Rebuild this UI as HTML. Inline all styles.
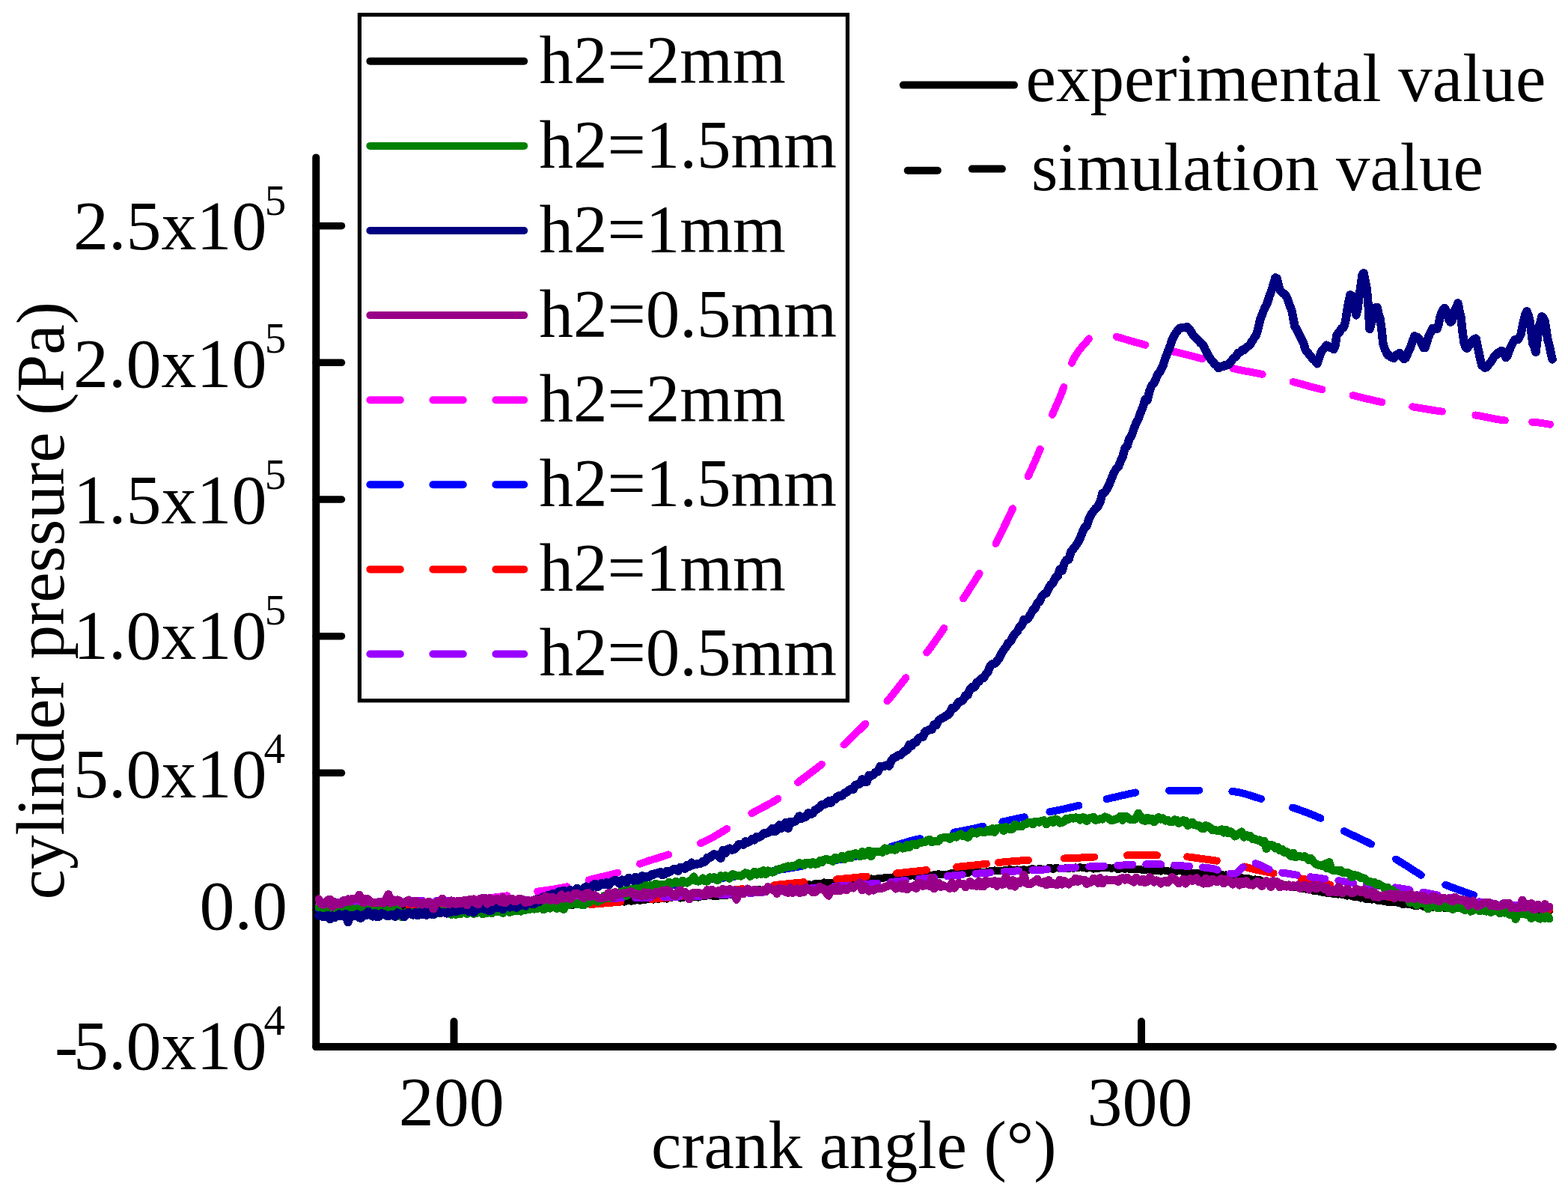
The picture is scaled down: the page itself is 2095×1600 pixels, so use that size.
<!DOCTYPE html>
<html><head><meta charset="utf-8"><title>cylinder pressure vs crank angle</title>
<style>
html,body{margin:0;padding:0;background:#fff;}
svg{display:block;}
text{font-family:'Liberation Serif','Times New Roman',serif;fill:#000;}
</style></head>
<body>
<svg width="2095" height="1600" viewBox="0 0 2095 1600">
<rect width="2095" height="1600" fill="#fff"/>
<line x1="422.25" y1="210.4" x2="422.25" y2="1398.1" stroke="#000" stroke-width="10" stroke-linecap="round"/>
<line x1="422.25" y1="1398.1" x2="2075" y2="1398.1" stroke="#000" stroke-width="10" stroke-linecap="round"/>
<line x1="422.25" y1="301.70" x2="456.5" y2="301.70" stroke="#000" stroke-width="9.5" stroke-linecap="round"/>
<line x1="422.25" y1="484.35" x2="456.5" y2="484.35" stroke="#000" stroke-width="9.5" stroke-linecap="round"/>
<line x1="422.25" y1="667.00" x2="456.5" y2="667.00" stroke="#000" stroke-width="9.5" stroke-linecap="round"/>
<line x1="422.25" y1="849.65" x2="456.5" y2="849.65" stroke="#000" stroke-width="9.5" stroke-linecap="round"/>
<line x1="422.25" y1="1032.30" x2="456.5" y2="1032.30" stroke="#000" stroke-width="9.5" stroke-linecap="round"/>
<line x1="422.25" y1="1214.95" x2="456.5" y2="1214.95" stroke="#000" stroke-width="9.5" stroke-linecap="round"/>
<line x1="606.50" y1="1398" x2="606.50" y2="1364.3" stroke="#000" stroke-width="10" stroke-linecap="round"/>
<line x1="1525.00" y1="1398" x2="1525.00" y2="1364.3" stroke="#000" stroke-width="10" stroke-linecap="round"/>
<g id="curves" shape-rendering="crispEdges">
<path d="M426.0,1210.0 L430.0,1210.0 L434.0,1210.0 L435.2,1210.0 M476.2,1210.0 L478.0,1210.0 L482.0,1210.0 L486.0,1210.0 L490.0,1210.0 L494.0,1210.0 L498.0,1210.0 L502.0,1210.0 L506.0,1210.0 L510.0,1209.9 L514.0,1209.9 L516.2,1209.8 M557.2,1207.9 L558.0,1207.9 L562.0,1207.6 L566.0,1207.4 L570.0,1207.1 L574.0,1206.8 L578.0,1206.6 L582.0,1206.3 L586.0,1206.0 L590.0,1205.7 L594.0,1205.4 L597.1,1205.2 M637.9,1201.3 L638.0,1201.3 L642.0,1200.8 L646.0,1200.3 L650.0,1199.8 L654.0,1199.3 L658.0,1198.8 L662.0,1198.3 L666.0,1197.8 L670.0,1197.3 L674.0,1196.8 L677.6,1196.3 M718.2,1190.7 L722.0,1190.1 L726.0,1189.5 L730.0,1189.0 L734.0,1188.4 L738.0,1187.8 L742.0,1187.2 L746.0,1186.5 L750.0,1185.8 L754.0,1185.0 L757.7,1184.3 M786.6,1175.4 L790.0,1174.5 L794.0,1173.4 L798.0,1172.5 L802.0,1171.5 L806.0,1170.6 L810.0,1169.7 L814.0,1168.7 L818.0,1167.7 L822.0,1166.6 L825.3,1165.6 M855.0,1153.7 L858.0,1152.6 L862.0,1151.3 L866.0,1149.9 L870.0,1148.6 L874.0,1147.4 L878.0,1146.1 L882.0,1144.9 L886.0,1143.6 L890.0,1142.3 L893.1,1141.3 M936.1,1126.2 L938.0,1125.4 L942.0,1123.6 L946.0,1121.6 L950.0,1119.5 L954.0,1117.3 L958.0,1115.0 L962.0,1112.6 L966.0,1110.2 L970.0,1107.7 L971.2,1107.0 M1004.4,1086.2 L1006.0,1085.3 L1010.0,1083.1 L1014.0,1080.9 L1018.0,1078.9 L1022.0,1076.8 L1026.0,1074.7 L1030.0,1072.5 L1034.0,1070.2 L1038.0,1067.7 L1039.3,1066.8 M1066.1,1045.1 L1070.0,1042.1 L1074.0,1039.0 L1078.0,1036.0 L1082.0,1033.0 L1086.0,1030.1 L1090.0,1027.0 L1094.0,1023.9 L1097.8,1020.8 M1127.5,994.6 L1130.0,992.3 L1134.0,988.5 L1138.0,984.7 L1142.0,980.8 L1146.0,976.9 L1150.0,973.0 L1154.0,969.0 L1156.2,966.8 M1185.4,936.5 L1186.0,935.8 L1190.0,931.0 L1194.0,926.0 L1198.0,920.9 L1202.0,915.8 L1206.0,910.7 L1210.0,905.8 L1210.4,905.3 M1238.2,871.6 L1242.0,866.6 L1246.0,861.1 L1250.0,855.5 L1254.0,849.8 L1258.0,844.0 L1261.4,839.0 M1287.0,799.4 L1290.0,794.8 L1294.0,788.8 L1298.0,782.6 L1302.0,776.4 L1306.0,770.0 L1308.6,765.7 M1330.5,726.0 L1334.0,719.2 L1338.0,711.0 L1342.0,702.7 L1346.0,694.3 L1350.0,685.9 L1353.2,679.2 M1373.7,636.3 L1374.0,635.7 L1378.0,627.0 L1382.0,618.1 L1386.0,608.8 L1389.7,599.7 M1406.0,553.9 L1410.0,544.6 L1414.0,535.5 L1418.0,526.1 L1421.4,517.0 M1432.0,484.9 L1434.0,480.0 L1438.0,473.3 L1442.0,467.7 L1446.0,462.9 L1450.0,458.3 L1454.0,453.6 L1454.9,452.4 M1491.8,449.7 L1495.0,450.7 L1499.0,451.8 L1503.0,453.0 L1507.0,454.2 L1511.0,455.3 L1515.0,456.5 L1519.0,457.6 L1523.0,458.7 L1527.0,459.8 L1530.3,460.7 M1567.6,469.4 L1571.0,470.2 L1575.0,471.2 L1579.0,472.2 L1583.0,473.1 L1587.0,474.1 L1591.0,475.1 L1595.0,476.2 L1599.0,477.2 L1603.0,478.3 L1606.3,479.3 M1647.4,492.1 L1651.0,492.9 L1655.0,493.8 L1659.0,494.6 L1663.0,495.4 L1667.0,496.1 L1671.0,496.8 L1675.0,497.6 L1679.0,498.4 L1683.0,499.2 L1686.6,499.9 M1727.7,510.0 L1731.0,510.8 L1735.0,511.9 L1739.0,513.0 L1743.0,514.1 L1747.0,515.2 L1751.0,516.3 L1755.0,517.3 L1759.0,518.4 L1763.0,519.3 L1766.4,520.1 M1807.6,528.1 L1811.0,528.8 L1815.0,529.8 L1819.0,530.8 L1823.0,531.8 L1827.0,532.8 L1831.0,533.7 L1835.0,534.7 L1839.0,535.6 L1843.0,536.4 L1846.5,537.1 M1887.3,543.3 L1891.0,543.9 L1895.0,544.6 L1899.0,545.3 L1903.0,545.9 L1907.0,546.6 L1911.0,547.2 L1915.0,547.9 L1919.0,548.5 L1923.0,549.1 L1926.8,549.6 M1971.4,554.5 L1975.0,555.1 L1979.0,555.8 L1983.0,556.6 L1987.0,557.4 L1991.0,558.3 L1995.0,559.1 L1999.0,559.8 L2003.0,560.5 L2007.0,561.1 L2010.7,561.5 M2047.2,563.7 L2051.0,564.0 L2055.0,564.4 L2059.0,564.9 L2063.0,565.5 L2067.0,566.2 L2071.0,566.8" fill="none" stroke="#ff00ff" stroke-width="10" stroke-linecap="round" stroke-linejoin="round"/>
<path d="M426.0,1215.0 L428.7,1215.1 M469.6,1216.7 L470.0,1216.7 L474.0,1216.9 L478.0,1217.0 L482.0,1217.1 L486.0,1217.2 L490.0,1217.2 L494.0,1217.3 L498.0,1217.4 L502.0,1217.5 L506.0,1217.5 L509.6,1217.6 M550.6,1217.9 L554.0,1217.9 L558.0,1218.0 L562.0,1218.0 L566.0,1218.0 L570.0,1218.0 L574.0,1218.0 L578.0,1218.0 L582.0,1218.0 L586.0,1218.0 L590.0,1218.0 L590.6,1218.0 M631.6,1217.5 L634.0,1217.4 L638.0,1217.2 L642.0,1217.1 L646.0,1216.9 L650.0,1216.7 L654.0,1216.5 L658.0,1216.4 L662.0,1216.2 L666.0,1215.9 L670.0,1215.7 L671.6,1215.6 M712.5,1213.2 L714.0,1213.0 L718.0,1212.7 L722.0,1212.4 L726.0,1212.0 L730.0,1211.7 L734.0,1211.3 L738.0,1210.9 L742.0,1210.5 L746.0,1210.0 L750.0,1209.6 L752.3,1209.3 M793.0,1204.0 L794.0,1203.9 L798.0,1203.3 L802.0,1202.7 L806.0,1202.1 L810.0,1201.4 L814.0,1200.7 L818.0,1199.9 L822.0,1199.1 L826.0,1198.3 L830.0,1197.4 L832.3,1196.9 M872.2,1187.6 L874.0,1187.2 L878.0,1186.3 L882.0,1185.4 L886.0,1184.6 L890.0,1183.8 L894.0,1183.1 L898.0,1182.3 L902.0,1181.7 L906.0,1181.0 L910.0,1180.4 L911.5,1180.1 M952.1,1174.5 L954.0,1174.2 L958.0,1173.7 L962.0,1173.2 L966.0,1172.7 L970.0,1172.2 L974.0,1171.6 L978.0,1171.1 L982.0,1170.6 L986.0,1170.0 L990.0,1169.5 L991.8,1169.2 M1032.3,1163.1 L1034.0,1162.9 L1038.0,1162.2 L1042.0,1161.6 L1046.0,1161.0 L1050.0,1160.4 L1054.0,1159.7 L1058.0,1159.1 L1062.0,1158.5 L1066.0,1157.8 L1070.0,1157.2 L1071.8,1156.8 M1112.2,1149.8 L1114.0,1149.5 L1118.0,1148.8 L1122.0,1148.0 L1126.0,1147.3 L1130.0,1146.5 L1134.0,1145.7 L1138.0,1144.9 L1142.0,1144.1 L1146.0,1143.2 L1150.0,1142.3 L1151.4,1142.0 M1190.9,1130.7 L1194.0,1129.8 L1198.0,1128.6 L1202.0,1127.4 L1206.0,1126.2 L1210.0,1125.0 L1214.0,1123.8 L1218.0,1122.7 L1222.0,1121.7 L1226.0,1120.8 L1229.4,1120.1 M1274.4,1111.7 L1278.0,1111.1 L1282.0,1110.4 L1286.0,1109.6 L1290.0,1108.8 L1294.0,1108.0 L1298.0,1107.2 L1302.0,1106.3 L1306.0,1105.4 L1310.0,1104.5 L1313.5,1103.7 M1339.4,1097.6 L1342.0,1097.0 L1346.0,1096.1 L1350.0,1095.2 L1354.0,1094.4 L1358.0,1093.5 L1362.0,1092.7 L1366.0,1091.8 L1368.7,1091.3 M1402.4,1084.4 L1406.0,1083.7 L1410.0,1082.9 L1414.0,1082.0 L1418.0,1081.2 L1422.0,1080.3 L1426.0,1079.4 L1430.0,1078.5 L1434.0,1077.6 L1438.0,1076.6 L1441.5,1075.8 M1478.5,1067.1 L1482.0,1066.3 L1486.0,1065.4 L1490.0,1064.6 L1494.0,1063.7 L1498.0,1062.7 L1502.0,1061.8 L1506.0,1060.9 L1510.0,1060.0 L1514.0,1059.1 L1517.5,1058.5 M1562.0,1055.8 L1566.0,1055.7 L1570.0,1055.6 L1574.0,1055.6 L1578.0,1055.5 L1582.0,1055.5 L1586.0,1055.5 L1590.0,1055.5 L1594.0,1055.6 L1598.0,1055.6 L1602.0,1055.6 M1646.4,1057.1 L1650.0,1057.4 L1654.0,1058.1 L1658.0,1058.9 L1662.0,1059.9 L1666.0,1061.0 L1670.0,1062.2 L1674.0,1063.5 L1678.0,1064.8 L1682.0,1066.0 L1685.1,1066.9 M1727.1,1078.6 L1730.0,1079.6 L1734.0,1080.9 L1738.0,1082.3 L1742.0,1083.8 L1746.0,1085.2 L1750.0,1086.8 L1754.0,1088.4 L1758.0,1090.0 L1762.0,1091.8 L1764.5,1092.9 M1795.9,1110.0 L1798.0,1111.0 L1802.0,1113.0 L1806.0,1114.9 L1810.0,1116.7 L1814.0,1118.6 L1818.0,1120.5 L1822.0,1122.4 L1826.0,1124.3 L1830.0,1126.3 L1832.0,1127.4 M1865.0,1147.5 L1866.0,1148.1 L1870.0,1150.6 L1874.0,1153.0 L1878.0,1155.5 L1882.0,1158.0 L1886.0,1160.6 L1890.0,1163.2 L1894.0,1165.8 L1898.0,1168.3 L1898.8,1168.8 M1931.3,1181.8 L1934.0,1182.9 L1938.0,1184.4 L1942.0,1185.8 L1946.0,1187.3 L1950.0,1188.8 L1954.0,1190.2 L1958.0,1191.7 L1962.0,1193.0 L1966.0,1194.4 L1968.9,1195.3 M2008.3,1206.6 L2010.0,1207.0 L2014.0,1207.8 L2018.0,1208.6 L2022.0,1209.4 L2026.0,1210.1 L2030.0,1210.8 L2034.0,1211.3 L2038.0,1211.8 L2042.0,1212.2 L2046.0,1212.5 L2047.8,1212.7" fill="none" stroke="#0000ff" stroke-width="10" stroke-linecap="round" stroke-linejoin="round"/>
<polyline points="426.0,1212.3 429.0,1212.9 432.0,1212.6 435.0,1211.2 438.0,1211.3 441.0,1212.7 444.0,1210.5 447.0,1212.5 450.0,1212.4 453.0,1211.5 456.0,1211.1 459.0,1211.0 462.0,1210.9 465.0,1211.3 468.0,1211.4 471.0,1211.5 474.0,1212.5 477.0,1212.0 480.0,1211.5 483.0,1212.4 486.0,1210.5 489.0,1210.3 492.0,1211.4 495.0,1210.0 498.0,1209.9 501.0,1211.0 504.0,1210.9 507.0,1211.9 510.0,1211.2 513.0,1210.9 516.0,1210.8 519.0,1210.2 522.0,1209.6 525.0,1210.0 528.0,1211.2 531.0,1210.0 534.0,1210.3 537.0,1209.4 540.0,1211.4 543.0,1209.7 546.0,1210.0 549.0,1211.4 552.0,1210.5 555.0,1211.3 558.0,1210.7 561.0,1211.0 564.0,1209.4 567.0,1210.4 570.0,1210.3 573.0,1211.2 576.0,1209.9 579.0,1210.4 582.0,1209.1 585.0,1209.9 588.0,1209.7 591.0,1209.3 594.0,1210.8 597.0,1209.7 600.0,1211.1 603.0,1210.2 606.0,1210.2 609.0,1210.2 612.0,1210.3 615.0,1209.0 618.0,1209.7 621.0,1209.2 624.0,1209.5 627.0,1208.8 630.0,1210.8 633.0,1209.0 636.0,1210.1 639.0,1209.2 642.0,1210.5 645.0,1210.0 648.0,1208.7 651.0,1210.4 654.0,1210.6 657.0,1210.5 660.0,1209.6 663.0,1208.6 666.0,1208.7 669.0,1210.4 672.0,1209.5 675.0,1208.6 678.0,1210.2 681.0,1209.6 684.0,1209.4 687.0,1208.9 690.0,1209.0 693.0,1208.5 696.0,1208.0 699.0,1210.0 702.0,1209.0 705.0,1209.1 708.0,1208.6 711.0,1209.5 714.0,1207.8 717.0,1208.6 720.0,1207.7 723.0,1207.9 726.0,1209.9 729.0,1209.1 732.0,1208.5 735.0,1208.6 738.0,1209.4 741.0,1208.1 744.0,1208.6 747.0,1208.8 750.0,1207.9 753.0,1208.2 756.0,1208.7 759.0,1209.0 762.0,1207.0 765.0,1208.8 768.0,1206.4 771.0,1208.1 774.0,1208.1 777.0,1206.3 780.0,1206.8 783.0,1207.6 786.0,1205.5 789.0,1206.8 792.0,1207.0 795.0,1206.2 798.0,1206.5 801.0,1205.1 804.0,1204.8 807.0,1205.0 810.0,1204.4 813.0,1204.6 816.0,1205.8 819.0,1204.7 822.0,1203.9 825.0,1203.6 828.0,1205.0 831.0,1203.5 834.0,1204.6 837.0,1203.3 840.0,1203.1 843.0,1203.7 846.0,1203.2 849.0,1202.5 852.0,1202.0 855.0,1202.8 858.0,1201.5 861.0,1202.5 864.0,1200.2 867.0,1200.9 870.0,1200.9 873.0,1201.7 876.0,1199.9 879.0,1201.0 882.0,1200.5 885.0,1200.4 888.0,1200.0 891.0,1200.6 894.0,1198.9 897.0,1198.9 900.0,1198.3 903.0,1197.8 906.0,1198.0 909.0,1199.6 912.0,1199.2 915.0,1197.4 918.0,1198.4 921.0,1198.0 924.0,1198.1 927.0,1198.2 930.0,1197.2 933.0,1198.6 936.0,1197.3 939.0,1197.5 942.0,1197.4 945.0,1196.2 948.0,1195.7 951.0,1196.4 954.0,1197.0 957.0,1197.0 960.0,1196.6 963.0,1194.8 966.0,1196.5 969.0,1195.9 972.0,1195.7 975.0,1194.5 978.0,1195.0 981.0,1192.5 984.0,1192.1 987.0,1191.6 990.0,1191.7 993.0,1191.3 996.0,1190.8 999.0,1191.3 1002.0,1189.6 1005.0,1190.6 1008.0,1189.2 1011.0,1190.1 1014.0,1188.1 1017.0,1188.5 1020.0,1189.6 1023.0,1188.3 1026.0,1188.6 1029.0,1187.8 1032.0,1187.4 1035.0,1186.0 1038.0,1186.6 1041.0,1184.9 1044.0,1186.4 1047.0,1186.4 1050.0,1185.8 1053.0,1183.6 1056.0,1183.9 1059.0,1183.5 1062.0,1182.7 1065.0,1183.6 1068.0,1183.6 1071.0,1182.1 1074.0,1183.1 1077.0,1182.6 1080.0,1180.7 1083.0,1181.9 1086.0,1181.8 1089.0,1179.9 1092.0,1180.5 1095.0,1180.3 1098.0,1180.0 1101.0,1178.4 1104.0,1179.5 1107.0,1179.2 1110.0,1179.4 1113.0,1179.0 1116.0,1177.6 1119.0,1178.3 1122.0,1178.4 1125.0,1178.2 1128.0,1176.2 1131.0,1175.6 1134.0,1176.9 1137.0,1175.6 1140.0,1176.2 1143.0,1176.9 1146.0,1175.3 1149.0,1174.7 1152.0,1175.0 1155.0,1175.2 1158.0,1173.7 1161.0,1174.1 1164.0,1173.3 1167.0,1174.4 1170.0,1174.5 1173.0,1173.2 1176.0,1173.0 1179.0,1173.2 1182.0,1172.2 1185.0,1172.0 1188.0,1172.0 1191.0,1172.1 1194.0,1171.0 1197.0,1172.4 1200.0,1171.8 1203.0,1170.9 1206.0,1170.2 1209.0,1171.6 1212.0,1169.9 1215.0,1169.7 1218.0,1169.5 1221.0,1169.2 1224.0,1170.9 1227.0,1169.2 1230.0,1169.1 1233.0,1170.2 1236.0,1169.5 1239.0,1168.2 1242.0,1168.6 1245.0,1169.5 1248.0,1168.1 1251.0,1168.7 1254.0,1167.1 1257.0,1168.4 1260.0,1168.3 1263.0,1168.2 1266.0,1167.7 1269.0,1166.8 1272.0,1165.8 1275.0,1166.7 1278.0,1167.1 1281.0,1165.5 1284.0,1165.5 1287.0,1165.9 1290.0,1166.2 1293.0,1166.4 1296.0,1164.3 1299.0,1164.2 1302.0,1165.5 1305.0,1164.9 1308.0,1164.9 1311.0,1165.4 1314.0,1165.0 1317.0,1164.6 1320.0,1164.2 1323.0,1163.1 1326.0,1163.5 1329.0,1162.3 1332.0,1163.5 1335.0,1163.3 1338.0,1163.1 1341.0,1162.3 1344.0,1162.0 1347.0,1161.9 1350.0,1160.9 1353.0,1162.7 1356.0,1161.9 1359.0,1161.4 1362.0,1161.7 1365.0,1162.0 1368.0,1161.0 1371.0,1162.0 1374.0,1162.1 1377.0,1160.7 1380.0,1160.0 1383.0,1161.4 1386.0,1161.8 1389.0,1159.7 1392.0,1160.9 1395.0,1161.1 1398.0,1161.2 1401.0,1159.2 1404.0,1159.1 1407.0,1161.1 1410.0,1159.0 1413.0,1159.0 1416.0,1159.9 1419.0,1159.5 1422.0,1160.2 1425.0,1158.8 1428.0,1160.5 1431.0,1158.8 1434.0,1160.0 1437.0,1158.3 1440.0,1159.3 1443.0,1158.2 1446.0,1158.9 1449.0,1158.8 1452.0,1159.8 1455.0,1159.2 1458.0,1158.3 1461.0,1160.6 1464.0,1160.4 1467.0,1160.5 1470.0,1159.0 1473.0,1159.4 1476.0,1159.1 1479.0,1158.9 1482.0,1158.8 1485.0,1160.0 1488.0,1159.2 1491.0,1159.4 1494.0,1161.2 1497.0,1160.4 1500.0,1159.7 1503.0,1161.0 1506.0,1160.1 1509.0,1160.9 1512.0,1160.4 1515.0,1161.0 1518.0,1161.4 1521.0,1161.3 1524.0,1161.1 1527.0,1162.2 1530.0,1162.5 1533.0,1160.9 1536.0,1161.0 1539.0,1161.1 1542.0,1163.3 1545.0,1163.3 1548.0,1161.8 1551.0,1163.7 1554.0,1162.0 1557.0,1162.9 1560.0,1163.0 1563.0,1164.2 1566.0,1162.2 1569.0,1163.0 1572.0,1163.9 1575.0,1162.8 1578.0,1163.4 1581.0,1164.1 1584.0,1165.3 1587.0,1165.3 1590.0,1165.6 1593.0,1165.7 1596.0,1165.8 1599.0,1166.4 1602.0,1166.2 1605.0,1166.6 1608.0,1165.8 1611.0,1165.7 1614.0,1167.4 1617.0,1166.3 1620.0,1168.4 1623.0,1167.9 1626.0,1167.6 1629.0,1169.3 1632.0,1167.8 1635.0,1169.0 1638.0,1168.3 1641.0,1170.7 1644.0,1170.1 1647.0,1171.1 1650.0,1170.2 1653.0,1171.8 1656.0,1172.0 1659.0,1172.2 1662.0,1173.4 1665.0,1172.6 1668.0,1173.0 1671.0,1174.1 1674.0,1175.0 1677.0,1174.3 1680.0,1175.7 1683.0,1175.1 1686.0,1176.5 1689.0,1177.6 1692.0,1176.5 1695.0,1178.6 1698.0,1177.5 1701.0,1180.3 1704.0,1179.7 1707.0,1180.1 1710.0,1181.4 1713.0,1181.5 1716.0,1182.6 1719.0,1181.7 1722.0,1183.4 1725.0,1184.0 1728.0,1185.5 1731.0,1183.9 1734.0,1185.5 1737.0,1186.5 1740.0,1186.9 1743.0,1186.3 1746.0,1188.0 1749.0,1187.7 1752.0,1188.1 1755.0,1190.2 1758.0,1189.1 1761.0,1190.2 1764.0,1191.3 1767.0,1191.7 1770.0,1191.7 1773.0,1192.8 1776.0,1192.4 1779.0,1193.2 1782.0,1194.1 1785.0,1194.2 1788.0,1194.6 1791.0,1194.4 1794.0,1195.2 1797.0,1195.3 1800.0,1196.6 1803.0,1196.2 1806.0,1196.8 1809.0,1198.0 1812.0,1197.9 1815.0,1198.0 1818.0,1199.6 1821.0,1199.0 1824.0,1200.6 1827.0,1200.9 1830.0,1200.6 1833.0,1201.7 1836.0,1200.5 1839.0,1201.8 1842.0,1203.4 1845.0,1203.2 1848.0,1203.6 1851.0,1204.2 1854.0,1204.7 1857.0,1204.9 1860.0,1204.9 1863.0,1204.8 1866.0,1205.5 1869.0,1205.9 1872.0,1206.6 1875.0,1208.4 1878.0,1207.3 1881.0,1207.9 1884.0,1208.1 1887.0,1208.9 1890.0,1210.1 1893.0,1210.3 1896.0,1209.4 1899.0,1209.4 1902.0,1211.1 1905.0,1210.4 1908.0,1211.1 1911.0,1209.8 1914.0,1211.9 1917.0,1210.8 1920.0,1211.4 1923.0,1210.9 1926.0,1211.6 1929.0,1212.7 1932.0,1212.9 1935.0,1212.2 1938.0,1213.1 1941.0,1212.5 1944.0,1212.4 1947.0,1213.0 1950.0,1212.3 1953.0,1212.7 1956.0,1213.8 1959.0,1214.1 1962.0,1212.5 1965.0,1214.2 1968.0,1214.6 1971.0,1213.8 1974.0,1213.0 1977.0,1214.6 1980.0,1213.7 1983.0,1214.7 1986.0,1214.2 1989.0,1215.0 1992.0,1214.1 1995.0,1214.8 1998.0,1215.0 2001.0,1215.3 2004.0,1214.4 2007.0,1216.3 2010.0,1214.8 2013.0,1215.0 2016.0,1214.9 2019.0,1214.6 2022.0,1215.5 2025.0,1216.4 2028.0,1216.4 2031.0,1215.2 2034.0,1215.2 2037.0,1215.7 2040.0,1216.9 2043.0,1216.3 2046.0,1217.4 2049.0,1216.8 2052.0,1216.8 2055.0,1217.3 2058.0,1217.3 2061.0,1216.4 2064.0,1216.2 2067.0,1216.7 2070.0,1216.9" fill="none" stroke="#000000" stroke-width="10" stroke-linecap="round" stroke-linejoin="round"/>
<path d="M465.5,1213.0 L466.0,1213.0 L470.0,1213.0 L474.0,1213.0 L478.0,1213.0 L482.0,1213.0 L486.0,1213.0 L490.0,1213.0 L494.0,1213.0 L498.0,1213.0 L502.0,1213.0 L505.5,1213.0 M546.5,1213.0 L550.0,1213.0 L554.0,1213.0 L558.0,1213.0 L562.0,1213.0 L566.0,1213.0 L570.0,1213.0 L574.0,1213.0 L578.0,1213.0 L582.0,1213.0 L586.0,1213.0 L586.5,1213.0 M627.5,1212.9 L630.0,1212.9 L634.0,1212.8 L638.0,1212.8 L642.0,1212.7 L646.0,1212.7 L650.0,1212.6 L654.0,1212.6 L658.0,1212.5 L662.0,1212.5 L666.0,1212.4 L667.5,1212.4 M708.5,1211.5 L710.0,1211.5 L714.0,1211.4 L718.0,1211.3 L722.0,1211.2 L726.0,1211.1 L730.0,1211.0 L734.0,1210.9 L738.0,1210.8 L742.0,1210.6 L746.0,1210.5 L748.5,1210.4 M789.4,1207.9 L790.0,1207.9 L794.0,1207.6 L798.0,1207.3 L802.0,1206.9 L806.0,1206.6 L810.0,1206.3 L814.0,1205.9 L818.0,1205.6 L822.0,1205.3 L826.0,1204.9 L829.3,1204.6 M870.1,1200.9 L874.0,1200.5 L878.0,1200.2 L882.0,1199.8 L886.0,1199.5 L890.0,1199.1 L894.0,1198.7 L898.0,1198.3 L902.0,1197.9 L906.0,1197.5 L909.9,1197.0 M952.2,1192.1 L954.0,1191.9 L958.0,1191.4 L962.0,1190.9 L966.0,1190.4 L970.0,1189.9 L974.0,1189.4 L978.0,1188.9 L982.0,1188.4 L986.0,1187.9 L990.0,1187.4 L991.9,1187.2 M1034.1,1182.2 L1038.0,1181.8 L1042.0,1181.3 L1046.0,1180.9 L1050.0,1180.5 L1054.0,1180.1 L1058.0,1179.7 L1062.0,1179.3 L1066.0,1178.9 L1070.0,1178.6 L1073.9,1178.2 M1118.1,1174.3 L1122.0,1174.0 L1126.0,1173.6 L1130.0,1173.3 L1134.0,1172.9 L1138.0,1172.5 L1142.0,1172.1 L1146.0,1171.7 L1150.0,1171.3 L1154.0,1170.9 L1157.9,1170.5 M1198.1,1166.3 L1202.0,1165.9 L1206.0,1165.5 L1210.0,1165.0 L1214.0,1164.6 L1218.0,1164.2 L1222.0,1163.8 L1226.0,1163.4 L1230.0,1163.0 L1234.0,1162.5 L1237.9,1162.1 M1278.1,1158.0 L1282.0,1157.5 L1286.0,1157.1 L1290.0,1156.7 L1294.0,1156.3 L1298.0,1155.9 L1302.0,1155.5 L1306.0,1155.0 L1310.0,1154.6 L1314.0,1154.2 L1317.9,1153.7 M1334.1,1151.9 L1338.0,1151.6 L1342.0,1151.2 L1346.0,1150.8 L1350.0,1150.5 L1354.0,1150.1 L1358.0,1149.9 L1362.0,1149.6 L1366.0,1149.3 L1370.0,1149.1 L1374.0,1148.9 M1422.0,1146.5 L1426.0,1146.3 L1430.0,1146.1 L1434.0,1145.9 L1438.0,1145.7 L1442.0,1145.6 L1446.0,1145.4 L1450.0,1145.1 L1454.0,1144.9 L1458.0,1144.7 L1462.0,1144.5 M1506.0,1142.3 L1510.0,1142.2 L1514.0,1142.1 L1518.0,1142.0 L1522.0,1142.0 L1526.0,1142.0 L1530.0,1142.0 L1534.0,1142.1 L1538.0,1142.1 L1542.0,1142.2 L1546.0,1142.3 M1586.2,1144.3 L1590.0,1144.7 L1594.0,1145.3 L1598.0,1145.8 L1602.0,1146.4 L1606.0,1147.0 L1610.0,1147.5 L1614.0,1148.1 L1618.0,1148.6 L1622.0,1149.1 L1625.8,1149.7 M1662.6,1157.5 L1666.0,1158.5 L1670.0,1159.5 L1674.0,1160.6 L1678.0,1161.5 L1682.0,1162.4 L1686.0,1163.3 L1690.0,1164.1 L1694.0,1164.9 L1698.0,1165.7 L1701.6,1166.5 M1738.4,1173.4 L1742.0,1174.1 L1746.0,1174.8 L1750.0,1175.6 L1754.0,1176.4 L1758.0,1177.2 L1762.0,1178.1 L1766.0,1179.0 L1770.0,1179.9 L1774.0,1180.9 L1777.5,1181.7 M1817.5,1190.7 L1818.0,1190.9 L1822.0,1191.7 L1826.0,1192.5 L1830.0,1193.3 L1834.0,1194.1 L1838.0,1194.9 L1842.0,1195.6 L1846.0,1196.3 L1850.0,1197.0 L1854.0,1197.7 L1856.8,1198.1 M1897.4,1203.7 L1898.0,1203.8 L1902.0,1204.2 L1906.0,1204.7 L1910.0,1205.1 L1914.0,1205.6 L1918.0,1206.0 L1922.0,1206.5 L1926.0,1206.9 L1930.0,1207.3 L1934.0,1207.6 L1937.2,1207.9 M1978.1,1210.8 L1982.0,1211.1 L1986.0,1211.3 L1990.0,1211.5 L1994.0,1211.7 L1998.0,1211.9 L2002.0,1212.1 L2006.0,1212.3 L2010.0,1212.5 L2014.0,1212.7 L2018.0,1212.9 L2018.0,1212.9 M2059.0,1214.6 L2062.0,1214.7 L2066.0,1214.8 L2070.0,1214.9" fill="none" stroke="#ff0000" stroke-width="10" stroke-linecap="round" stroke-linejoin="round"/>
<polyline points="426.0,1205.0 430.0,1204.9 434.0,1204.9 438.0,1204.8 442.0,1204.7 446.0,1204.6 450.0,1204.6 454.0,1204.5 458.0,1204.4 462.0,1204.4 466.0,1204.3 470.0,1204.2 474.0,1204.2 478.0,1204.1 482.0,1204.0 486.0,1204.0 490.0,1203.9 494.0,1203.8 498.0,1203.8 502.0,1203.7 506.0,1203.7 510.0,1203.6 514.0,1203.6 518.0,1203.5 522.0,1203.5 526.0,1203.4 530.0,1203.4 534.0,1203.4 538.0,1203.3 542.0,1203.3 546.0,1203.2 550.0,1203.2 554.0,1203.2 558.0,1203.1 562.0,1203.1 566.0,1203.1 570.0,1203.1 574.0,1203.1 578.0,1203.0 582.0,1203.0 586.0,1203.0 590.0,1203.0 594.0,1203.0 598.0,1203.0 602.0,1203.0 606.0,1203.0 610.0,1203.0 614.0,1203.0 618.0,1203.0 622.0,1203.0 626.0,1203.0 630.0,1203.0 634.0,1203.0 638.0,1203.0 642.0,1203.0 646.0,1203.0 650.0,1203.0 654.0,1203.0 658.0,1203.0 662.0,1203.0 666.0,1203.0 670.0,1203.0 674.0,1203.0 678.0,1203.0 682.0,1203.0 686.0,1203.0 690.0,1203.0 694.0,1203.0 698.0,1203.0 702.0,1203.0 706.0,1203.0 710.0,1202.9 714.0,1202.9 718.0,1202.8 722.0,1202.7 726.0,1202.6 730.0,1202.5 734.0,1202.4 738.0,1202.2 742.0,1202.1 746.0,1202.0 750.0,1201.8 754.0,1201.6 758.0,1201.5 762.0,1201.3 766.0,1201.2 770.0,1201.0 774.0,1200.8 778.0,1200.7 782.0,1200.5 786.0,1200.4 790.0,1200.3 794.0,1200.2 798.0,1200.0 802.0,1200.0 806.0,1199.9 810.0,1199.8 814.0,1199.7 818.0,1199.6 822.0,1199.5 826.0,1199.5 830.0,1199.4 834.0,1199.3 838.0,1199.3 842.0,1199.2 846.0,1199.1 850.0,1199.1 854.0,1199.0 858.0,1198.9 862.0,1198.8 866.0,1198.8 870.0,1198.7 874.0,1198.6 878.0,1198.5 882.0,1198.5 886.0,1198.4 890.0,1198.3 894.0,1198.2 898.0,1198.1 902.0,1197.9 906.0,1197.8 910.0,1197.7 914.0,1197.5 918.0,1197.4 922.0,1197.2 926.0,1197.1 930.0,1196.9 934.0,1196.7 938.0,1196.5 942.0,1196.3 946.0,1196.1 950.0,1195.9 954.0,1195.7 958.0,1195.5 962.0,1195.3 966.0,1195.0 970.0,1194.8 974.0,1194.6 978.0,1194.3 982.0,1194.1 986.0,1193.9 990.0,1193.6 994.0,1193.4 998.0,1193.1 1002.0,1192.9 1006.0,1192.6 1010.0,1192.3 1014.0,1192.1 1018.0,1191.8 1022.0,1191.5 1026.0,1191.2 1030.0,1190.9 1034.0,1190.5 1038.0,1190.2 1042.0,1189.9 1046.0,1189.5 1050.0,1189.2 1054.0,1188.9 1058.0,1188.5 1062.0,1188.2 1066.0,1187.8 1070.0,1187.5 1074.0,1187.1 1078.0,1186.8 1082.0,1186.5 1086.0,1186.1 1090.0,1185.8 1094.0,1185.5 1098.0,1185.2 1102.0,1184.8 1106.0,1184.5 1110.0,1184.2 1114.0,1184.0 1118.0,1183.7 1122.0,1183.4 1126.0,1183.1 1130.0,1182.8 1134.0,1182.5 1138.0,1182.3 1142.0,1182.0 1146.0,1181.7 1150.0,1181.4 1154.0,1181.1 1158.0,1180.8 1162.0,1180.5 1166.0,1180.2 1170.0,1179.9 1174.0,1179.5 1178.0,1179.2 1182.0,1178.8 1186.0,1178.4 1190.0,1178.0 1194.0,1177.6 1198.0,1177.2 1202.0,1176.8 1206.0,1176.3 1210.0,1175.9 1214.0,1175.4 1218.0,1174.9 1222.0,1174.5 1226.0,1174.1 1230.0,1173.6 1234.0,1173.2 1238.0,1172.8 1242.0,1172.4 1246.0,1172.0 1250.0,1171.6 1254.0,1171.2 1258.0,1170.8 1262.0,1170.5 1266.0,1170.1 1270.0,1169.7 1274.0,1169.4 1278.0,1169.0 1282.0,1168.7 1286.0,1168.3 1290.0,1168.0 1294.0,1167.6 1298.0,1167.3 1302.0,1167.0 1306.0,1166.7 1310.0,1166.4 1314.0,1166.1 1318.0,1165.8 1322.0,1165.5 1326.0,1165.3 1330.0,1165.0 1334.0,1164.8 1338.0,1164.6 1342.0,1164.3 1346.0,1164.1 1350.0,1163.9 1354.0,1163.7 1358.0,1163.4 1362.0,1163.2 1366.0,1163.0 1370.0,1162.8 1374.0,1162.6 1378.0,1162.4 1382.0,1162.2 1386.0,1162.0 1390.0,1161.8 1394.0,1161.6 1398.0,1161.3 1402.0,1161.1 1406.0,1160.9 1410.0,1160.6 1414.0,1160.3 1418.0,1160.0 1422.0,1159.7 1426.0,1159.4 1430.0,1159.1 1434.0,1158.8 1438.0,1158.5 1442.0,1158.2 1446.0,1158.0 1450.0,1157.7 1454.0,1157.5 1458.0,1157.3 1462.0,1157.1 1466.0,1156.9 1470.0,1156.7 1474.0,1156.6 1478.0,1156.4 1482.0,1156.2 1486.0,1156.1 1490.0,1155.9 1494.0,1155.7 1498.0,1155.6 1502.0,1155.4 1506.0,1155.2 1510.0,1155.0 1514.0,1154.8 1518.0,1154.6 1522.0,1154.5 1526.0,1154.3 1530.0,1154.2 1534.0,1154.1 1538.0,1154.0 1542.0,1154.0 1546.0,1154.1 1550.0,1154.3 1554.0,1154.5 1558.0,1154.7 1562.0,1155.0 1566.0,1155.3 1570.0,1155.6 1574.0,1155.9 1578.0,1156.2 1582.0,1156.5 1586.0,1156.7 1590.0,1157.0 1594.0,1157.3 1598.0,1157.6 1602.0,1157.9 1606.0,1158.3 1610.0,1158.7 1614.0,1159.2 1618.0,1159.7 1622.0,1160.4 1626.0,1161.6 1630.0,1163.0 1634.0,1164.5 1638.0,1165.6 1642.0,1166.3 1646.0,1166.8 1650.0,1167.0 1654.0,1164.8 1658.0,1160.4 1662.0,1157.0 1666.0,1155.2 1670.0,1153.8 1674.0,1153.0 1678.0,1153.3 1682.0,1154.6 1686.0,1156.4 1690.0,1158.6 1694.0,1160.7 1698.0,1162.4 1702.0,1163.5 1706.0,1164.3 1710.0,1165.0 1714.0,1165.7 1718.0,1166.3 1722.0,1167.0 1726.0,1167.6 1730.0,1168.2 1734.0,1168.8 1738.0,1169.4 1742.0,1170.0 1746.0,1170.6 1750.0,1171.1 1754.0,1171.7 1758.0,1172.2 1762.0,1172.7 1766.0,1173.2 1770.0,1173.8 1774.0,1174.3 1778.0,1174.8 1782.0,1175.3 1786.0,1175.9 1790.0,1176.4 1794.0,1177.1 1798.0,1177.7 1802.0,1178.4 1806.0,1179.0 1810.0,1179.6 1814.0,1180.2 1818.0,1180.8 1822.0,1181.2 1826.0,1181.6 1830.0,1182.0 1834.0,1182.3 1838.0,1182.6 1842.0,1182.9 1846.0,1183.3 1850.0,1183.7 1854.0,1184.1 1858.0,1184.6 1862.0,1185.1 1866.0,1185.7 1870.0,1186.3 1874.0,1187.0 1878.0,1187.6 1882.0,1188.3 1886.0,1189.0 1890.0,1189.7 1894.0,1190.3 1898.0,1191.1 1902.0,1191.8 1906.0,1192.6 1910.0,1193.4 1914.0,1194.2 1918.0,1195.0 1922.0,1195.8 1926.0,1196.5 1930.0,1197.3 1934.0,1198.0 1938.0,1198.7 1942.0,1199.3 1946.0,1199.9 1950.0,1200.6 1954.0,1201.2 1958.0,1201.8 1962.0,1202.4 1966.0,1202.9 1970.0,1203.5 1974.0,1204.0 1978.0,1204.5 1982.0,1205.1 1986.0,1205.5 1990.0,1206.0 1994.0,1206.4 1998.0,1206.8 2002.0,1207.2 2006.0,1207.5 2010.0,1207.9 2014.0,1208.3 2018.0,1208.6 2022.0,1208.9 2026.0,1209.3 2030.0,1209.6 2034.0,1209.9 2038.0,1210.2 2042.0,1210.4 2046.0,1210.7 2050.0,1210.9 2054.0,1211.2 2058.0,1211.4 2062.0,1211.6 2066.0,1211.8 2070.0,1211.9" fill="none" stroke="#9900ff" stroke-width="10" stroke-linecap="round" stroke-linejoin="round" stroke-dasharray="20 18.0" stroke-dashoffset="33.0"/>
<polyline points="426.0,1211.9 429.0,1213.7 432.0,1215.0 435.0,1212.0 438.0,1212.1 441.0,1212.4 444.0,1213.2 447.0,1217.3 450.0,1211.8 453.0,1212.8 456.0,1212.8 459.0,1214.7 462.0,1212.0 465.0,1214.8 468.0,1213.1 471.0,1213.8 474.0,1217.0 477.0,1213.5 480.0,1216.1 483.0,1215.0 486.0,1215.1 489.0,1217.6 492.0,1213.7 495.0,1218.4 498.0,1218.3 501.0,1217.0 504.0,1213.4 507.0,1217.2 510.0,1216.9 513.0,1218.1 516.0,1214.8 519.0,1219.4 522.0,1219.1 525.0,1214.6 528.0,1215.9 531.0,1214.3 534.0,1219.2 537.0,1224.8 540.0,1220.4 543.0,1218.3 546.0,1218.7 549.0,1218.9 552.0,1218.4 555.0,1220.8 558.0,1218.8 561.0,1217.3 564.0,1218.4 567.0,1215.6 570.0,1219.9 573.0,1219.8 576.0,1218.2 579.0,1220.9 582.0,1220.4 585.0,1217.9 588.0,1216.4 591.0,1216.7 594.0,1217.1 597.0,1217.8 600.0,1218.7 603.0,1221.6 606.0,1217.7 609.0,1221.4 612.0,1220.0 615.0,1221.0 618.0,1218.3 621.0,1215.9 624.0,1220.5 627.0,1217.2 630.0,1216.6 633.0,1220.4 636.0,1219.7 639.0,1216.8 642.0,1217.0 645.0,1221.0 648.0,1216.9 651.0,1219.4 654.0,1215.8 657.0,1219.8 660.0,1215.5 663.0,1217.8 666.0,1214.8 669.0,1217.8 672.0,1219.4 675.0,1214.7 678.0,1215.7 681.0,1218.5 684.0,1217.3 687.0,1215.2 690.0,1216.7 693.0,1215.2 696.0,1217.1 699.0,1213.2 702.0,1215.5 705.0,1214.3 708.0,1214.6 711.0,1212.2 714.0,1214.1 717.0,1213.8 720.0,1211.7 723.0,1209.4 726.0,1214.9 729.0,1213.3 732.0,1210.2 735.0,1213.2 738.0,1210.4 741.0,1211.4 744.0,1213.6 747.0,1210.9 750.0,1209.7 753.0,1214.6 756.0,1207.9 759.0,1208.3 762.0,1208.2 765.0,1207.1 768.0,1206.0 771.0,1207.8 774.0,1205.7 777.0,1208.3 780.0,1208.7 783.0,1204.2 786.0,1205.3 789.0,1204.3 792.0,1201.0 795.0,1200.6 798.0,1204.3 801.0,1201.0 804.0,1202.1 807.0,1196.7 810.0,1199.0 813.0,1199.6 816.0,1198.7 819.0,1192.5 822.0,1194.6 825.0,1192.8 828.0,1194.2 831.0,1189.1 834.0,1189.3 837.0,1196.6 840.0,1188.5 843.0,1187.3 846.0,1189.4 849.0,1184.5 852.0,1182.0 855.0,1183.3 858.0,1181.2 861.0,1180.4 864.0,1182.9 867.0,1184.9 870.0,1182.3 873.0,1182.5 876.0,1180.3 879.0,1181.5 882.0,1182.4 885.0,1181.2 888.0,1182.3 891.0,1180.6 894.0,1178.2 897.0,1180.3 900.0,1179.4 903.0,1177.2 906.0,1179.6 909.0,1180.5 912.0,1176.1 915.0,1178.2 918.0,1179.1 921.0,1176.7 924.0,1175.6 927.0,1170.9 930.0,1176.6 933.0,1177.1 936.0,1176.0 939.0,1172.9 942.0,1176.9 945.0,1177.1 948.0,1171.8 951.0,1172.4 954.0,1171.6 957.0,1175.2 960.0,1175.2 963.0,1169.6 966.0,1171.0 969.0,1169.7 972.0,1171.0 975.0,1173.3 978.0,1167.8 981.0,1168.0 984.0,1169.5 987.0,1169.3 990.0,1170.2 993.0,1168.0 996.0,1165.8 999.0,1166.7 1002.0,1170.2 1005.0,1168.4 1008.0,1164.3 1011.0,1168.2 1014.0,1164.9 1017.0,1167.5 1020.0,1162.6 1023.0,1167.4 1026.0,1162.9 1029.0,1164.3 1032.0,1165.2 1035.0,1163.8 1038.0,1161.3 1041.0,1160.6 1044.0,1160.8 1047.0,1158.5 1050.0,1158.4 1053.0,1156.9 1056.0,1157.9 1059.0,1156.4 1062.0,1157.1 1065.0,1154.6 1068.0,1152.5 1071.0,1153.8 1074.0,1155.8 1077.0,1152.3 1080.0,1152.7 1083.0,1154.3 1086.0,1151.7 1089.0,1154.2 1092.0,1153.9 1095.0,1149.7 1098.0,1151.8 1101.0,1148.3 1104.0,1147.1 1107.0,1148.4 1110.0,1148.8 1113.0,1150.3 1116.0,1145.0 1119.0,1147.8 1122.0,1145.9 1125.0,1143.3 1128.0,1147.8 1131.0,1145.5 1134.0,1141.6 1137.0,1145.7 1140.0,1140.3 1143.0,1139.7 1146.0,1140.6 1149.0,1143.7 1152.0,1137.7 1155.0,1142.4 1158.0,1140.0 1161.0,1136.2 1164.0,1143.7 1167.0,1137.4 1170.0,1137.5 1173.0,1138.0 1176.0,1137.1 1179.0,1138.4 1182.0,1132.8 1185.0,1136.2 1188.0,1133.3 1191.0,1134.9 1194.0,1135.0 1197.0,1135.1 1200.0,1130.2 1203.0,1130.8 1206.0,1133.2 1209.0,1132.6 1212.0,1128.6 1215.0,1131.5 1218.0,1127.7 1221.0,1127.0 1224.0,1128.7 1227.0,1126.4 1230.0,1125.7 1233.0,1124.8 1236.0,1124.5 1239.0,1122.2 1242.0,1121.2 1245.0,1124.8 1248.0,1123.1 1251.0,1123.2 1254.0,1123.4 1257.0,1119.5 1260.0,1118.9 1263.0,1118.6 1266.0,1118.3 1269.0,1120.5 1272.0,1117.6 1275.0,1116.8 1278.0,1118.1 1281.0,1114.9 1284.0,1113.9 1287.0,1116.9 1290.0,1116.7 1293.0,1118.5 1296.0,1115.0 1299.0,1110.9 1302.0,1112.6 1305.0,1113.1 1308.0,1110.7 1311.0,1110.7 1314.0,1111.8 1317.0,1111.1 1320.0,1108.0 1323.0,1110.8 1326.0,1106.5 1329.0,1111.3 1332.0,1106.2 1335.0,1106.0 1338.0,1105.2 1341.0,1109.4 1344.0,1104.7 1347.0,1106.1 1350.0,1107.9 1353.0,1107.1 1356.0,1101.2 1359.0,1103.6 1362.0,1103.6 1365.0,1103.8 1368.0,1101.1 1371.0,1100.6 1374.0,1098.2 1377.0,1098.0 1380.0,1100.7 1383.0,1097.4 1386.0,1097.8 1389.0,1098.2 1392.0,1096.3 1395.0,1095.7 1398.0,1100.8 1401.0,1097.5 1404.0,1095.8 1407.0,1098.5 1410.0,1094.0 1413.0,1095.2 1416.0,1099.2 1419.0,1098.5 1422.0,1096.6 1425.0,1093.1 1428.0,1094.2 1431.0,1092.2 1434.0,1093.2 1437.0,1091.8 1440.0,1092.2 1443.0,1095.1 1446.0,1091.8 1449.0,1092.0 1452.0,1096.4 1455.0,1092.9 1458.0,1092.7 1461.0,1091.2 1464.0,1095.4 1467.0,1094.6 1470.0,1093.7 1473.0,1094.1 1476.0,1090.9 1479.0,1091.8 1482.0,1093.7 1485.0,1095.8 1488.0,1095.0 1491.0,1093.9 1494.0,1093.1 1497.0,1090.1 1500.0,1095.3 1503.0,1090.4 1506.0,1090.8 1509.0,1094.2 1512.0,1095.0 1515.0,1094.9 1518.0,1092.9 1521.0,1086.3 1524.0,1090.6 1527.0,1095.6 1530.0,1096.4 1533.0,1092.1 1536.0,1096.0 1539.0,1093.3 1542.0,1097.9 1545.0,1094.2 1548.0,1091.4 1551.0,1094.1 1554.0,1092.9 1557.0,1096.1 1560.0,1095.0 1563.0,1097.4 1566.0,1097.9 1569.0,1094.9 1572.0,1095.1 1575.0,1099.6 1578.0,1097.6 1581.0,1095.8 1584.0,1096.2 1587.0,1102.5 1590.0,1100.8 1593.0,1098.3 1596.0,1101.7 1599.0,1102.3 1602.0,1102.5 1605.0,1106.2 1608.0,1106.9 1611.0,1102.6 1614.0,1103.4 1617.0,1105.6 1620.0,1108.8 1623.0,1108.2 1626.0,1109.5 1629.0,1109.3 1632.0,1107.8 1635.0,1112.2 1638.0,1108.1 1641.0,1112.9 1644.0,1110.6 1647.0,1113.1 1650.0,1116.9 1653.0,1115.0 1656.0,1112.9 1659.0,1110.9 1662.0,1118.1 1665.0,1115.3 1668.0,1117.3 1671.0,1116.7 1674.0,1120.7 1677.0,1120.6 1680.0,1122.2 1683.0,1121.9 1686.0,1125.0 1689.0,1123.1 1692.0,1133.5 1695.0,1129.9 1698.0,1128.2 1701.0,1129.2 1704.0,1132.9 1707.0,1131.1 1710.0,1135.8 1713.0,1134.4 1716.0,1138.5 1719.0,1137.6 1722.0,1140.4 1725.0,1143.4 1728.0,1139.1 1731.0,1144.6 1734.0,1143.8 1737.0,1143.7 1740.0,1144.4 1743.0,1143.6 1746.0,1145.6 1749.0,1148.8 1752.0,1146.7 1755.0,1151.2 1758.0,1154.0 1761.0,1155.2 1764.0,1155.8 1767.0,1156.5 1770.0,1153.9 1773.0,1159.8 1776.0,1151.4 1779.0,1161.6 1782.0,1162.8 1785.0,1162.5 1788.0,1163.1 1791.0,1162.3 1794.0,1165.4 1797.0,1165.1 1800.0,1165.3 1803.0,1166.4 1806.0,1171.4 1809.0,1168.2 1812.0,1169.6 1815.0,1169.8 1818.0,1172.3 1821.0,1172.5 1824.0,1173.8 1827.0,1177.2 1830.0,1177.3 1833.0,1178.3 1836.0,1178.0 1839.0,1181.8 1842.0,1180.7 1845.0,1182.5 1848.0,1184.0 1851.0,1187.8 1854.0,1185.2 1857.0,1189.5 1860.0,1188.5 1863.0,1193.6 1866.0,1192.3 1869.0,1194.6 1872.0,1198.6 1875.0,1199.0 1878.0,1197.1 1881.0,1199.0 1884.0,1205.6 1887.0,1196.1 1890.0,1204.0 1893.0,1209.0 1896.0,1204.2 1899.0,1205.8 1902.0,1206.6 1905.0,1206.3 1908.0,1214.0 1911.0,1210.1 1914.0,1208.8 1917.0,1207.9 1920.0,1212.4 1923.0,1212.6 1926.0,1211.4 1929.0,1209.1 1932.0,1211.8 1935.0,1212.6 1938.0,1211.6 1941.0,1214.4 1944.0,1211.8 1947.0,1212.8 1950.0,1210.7 1953.0,1213.6 1956.0,1215.1 1959.0,1215.1 1962.0,1212.5 1965.0,1217.2 1968.0,1215.8 1971.0,1214.2 1974.0,1214.4 1977.0,1216.8 1980.0,1213.4 1983.0,1216.4 1986.0,1217.1 1989.0,1216.1 1992.0,1218.5 1995.0,1216.4 1998.0,1216.6 2001.0,1215.8 2004.0,1219.9 2007.0,1216.6 2010.0,1219.1 2013.0,1217.7 2016.0,1221.2 2019.0,1221.6 2022.0,1216.4 2025.0,1227.5 2028.0,1220.6 2031.0,1217.7 2034.0,1220.7 2037.0,1218.4 2040.0,1221.8 2043.0,1220.0 2046.0,1226.6 2049.0,1221.7 2052.0,1224.0 2055.0,1225.9 2058.0,1227.2 2061.0,1224.2 2064.0,1226.4 2067.0,1223.7 2070.0,1226.7" fill="none" stroke="#008000" stroke-width="11" stroke-linecap="round" stroke-linejoin="round"/>
<polyline points="426.0,1222.6 429.0,1223.6 432.0,1224.1 435.0,1224.1 438.0,1222.5 441.0,1227.5 444.0,1223.1 447.0,1225.6 450.0,1223.5 453.0,1221.1 456.0,1223.5 459.0,1222.0 462.0,1220.8 465.0,1231.5 468.0,1222.4 471.0,1223.8 474.0,1222.7 477.0,1220.8 480.0,1225.8 483.0,1226.0 486.0,1221.4 489.0,1222.7 492.0,1217.4 495.0,1221.1 498.0,1224.0 501.0,1219.7 504.0,1224.5 507.0,1223.9 510.0,1219.9 513.0,1221.0 516.0,1222.6 519.0,1223.7 522.0,1221.7 525.0,1221.9 528.0,1224.1 531.0,1219.1 534.0,1220.4 537.0,1220.4 540.0,1224.5 543.0,1219.8 546.0,1218.5 549.0,1220.6 552.0,1221.8 555.0,1218.7 558.0,1222.6 561.0,1218.6 564.0,1221.5 567.0,1218.0 570.0,1222.2 573.0,1217.9 576.0,1220.9 579.0,1221.4 582.0,1217.7 585.0,1216.5 588.0,1219.3 591.0,1218.6 594.0,1218.3 597.0,1219.9 600.0,1217.8 603.0,1217.8 606.0,1217.5 609.0,1217.1 612.0,1216.6 615.0,1214.9 618.0,1215.5 621.0,1215.1 624.0,1214.8 627.0,1217.7 630.0,1213.5 633.0,1218.8 636.0,1215.4 639.0,1213.9 642.0,1213.2 645.0,1213.7 648.0,1214.2 651.0,1215.0 654.0,1216.5 657.0,1215.4 660.0,1212.6 663.0,1212.5 666.0,1211.9 669.0,1210.6 672.0,1214.5 675.0,1208.9 678.0,1209.4 681.0,1211.8 684.0,1210.9 687.0,1208.7 690.0,1212.2 693.0,1208.6 696.0,1209.2 699.0,1205.7 702.0,1210.0 705.0,1204.6 708.0,1205.6 711.0,1207.7 714.0,1207.2 717.0,1201.0 720.0,1204.6 723.0,1200.0 726.0,1197.8 729.0,1199.3 732.0,1195.9 735.0,1200.3 738.0,1193.7 741.0,1194.7 744.0,1193.0 747.0,1190.9 750.0,1192.9 753.0,1189.4 756.0,1193.5 759.0,1191.4 762.0,1188.7 765.0,1190.9 768.0,1189.9 771.0,1186.5 774.0,1189.0 777.0,1188.9 780.0,1186.4 783.0,1184.2 786.0,1187.0 789.0,1186.7 792.0,1182.5 795.0,1180.4 798.0,1184.6 801.0,1182.8 804.0,1179.7 807.0,1181.2 810.0,1179.1 813.0,1182.3 816.0,1178.3 819.0,1177.0 822.0,1175.6 825.0,1176.9 828.0,1180.3 831.0,1175.2 834.0,1176.1 837.0,1178.7 840.0,1172.4 843.0,1173.6 846.0,1176.2 849.0,1171.3 852.0,1175.7 855.0,1174.5 858.0,1169.8 861.0,1171.8 864.0,1171.0 867.0,1171.2 870.0,1168.2 873.0,1168.0 876.0,1166.5 879.0,1166.1 882.0,1164.7 885.0,1168.3 888.0,1167.5 891.0,1163.5 894.0,1164.8 897.0,1162.8 900.0,1160.7 903.0,1160.3 906.0,1163.1 909.0,1158.4 912.0,1158.9 915.0,1160.2 918.0,1155.3 921.0,1157.4 924.0,1152.2 927.0,1154.9 930.0,1154.3 933.0,1153.4 936.0,1153.1 939.0,1150.4 942.0,1150.9 945.0,1145.6 948.0,1145.9 951.0,1142.9 954.0,1140.9 957.0,1141.8 960.0,1142.3 963.0,1146.4 966.0,1135.5 969.0,1139.7 972.0,1134.2 975.0,1133.1 978.0,1135.0 981.0,1134.0 984.0,1131.7 987.0,1127.9 990.0,1127.3 993.0,1128.1 996.0,1123.9 999.0,1125.3 1002.0,1123.8 1005.0,1120.6 1008.0,1121.8 1011.0,1117.5 1014.0,1118.3 1017.0,1116.3 1020.0,1113.2 1023.0,1113.0 1026.0,1112.2 1029.0,1110.4 1032.0,1106.5 1035.0,1110.5 1038.0,1109.0 1041.0,1102.0 1044.0,1106.1 1047.0,1102.3 1050.0,1098.5 1053.0,1106.3 1056.0,1097.7 1059.0,1098.0 1062.0,1097.3 1065.0,1094.3 1068.0,1090.0 1071.0,1093.2 1074.0,1091.1 1077.0,1090.9 1080.0,1085.7 1083.0,1087.3 1086.0,1086.3 1089.0,1081.7 1092.0,1080.4 1095.0,1078.3 1098.0,1074.7 1101.0,1074.4 1104.0,1073.2 1107.0,1070.1 1110.0,1072.3 1113.0,1068.5 1116.0,1067.5 1119.0,1063.9 1122.0,1062.5 1125.0,1063.0 1128.0,1059.3 1131.0,1058.2 1134.0,1055.2 1137.0,1054.0 1140.0,1054.1 1143.0,1048.3 1146.0,1047.7 1149.0,1046.6 1152.0,1040.9 1155.0,1044.0 1158.0,1044.1 1161.0,1035.4 1164.0,1036.3 1167.0,1034.4 1170.0,1031.1 1173.0,1030.6 1176.0,1023.5 1179.0,1023.9 1182.0,1023.0 1185.0,1021.8 1188.0,1023.0 1191.0,1015.6 1194.0,1012.1 1197.0,1011.0 1200.0,1008.7 1203.0,1008.5 1206.0,1005.8 1209.0,1003.0 1212.0,1001.8 1215.0,994.4 1218.0,996.2 1221.0,992.0 1224.0,991.3 1227.0,986.1 1230.0,984.7 1233.0,984.3 1236.0,977.0 1239.0,976.0 1242.0,974.6 1245.0,974.2 1248.0,968.0 1251.0,968.6 1254.0,962.5 1257.0,960.1 1260.0,958.8 1263.0,956.6 1266.0,955.1 1269.0,952.2 1272.0,945.6 1275.0,945.6 1278.0,942.0 1281.0,937.5 1284.0,936.8 1287.0,934.5 1290.0,928.9 1293.0,928.3 1296.0,920.4 1299.0,917.4 1302.0,917.8 1305.0,911.7 1308.0,910.0 1311.0,906.1 1314.0,905.5 1317.0,900.7 1320.0,897.0 1323.0,889.8 1326.0,886.8 1329.0,886.3 1332.0,883.1 1335.0,879.0 1338.0,872.8 1341.0,868.1 1344.0,864.5 1347.0,858.9 1350.0,856.7 1353.0,851.0 1356.0,846.5 1359.0,843.7 1362.0,837.6 1365.0,835.7 1368.0,827.6 1371.0,827.9 1374.0,825.4 1377.0,820.5 1380.0,814.8 1383.0,812.2 1386.0,805.4 1389.0,803.5 1392.0,796.3 1395.0,793.6 1398.0,792.2 1401.0,785.7 1404.0,781.0 1407.0,778.4 1410.0,771.3 1413.0,770.0 1416.0,760.6 1419.0,762.3 1422.0,752.2 1425.0,747.9 1428.0,747.1 1431.0,736.5 1434.0,733.0 1437.0,729.4 1440.0,724.7 1443.0,719.4 1446.0,711.3 1449.0,704.6 1452.0,702.7 1455.0,692.7 1458.0,687.0 1461.0,682.7 1464.0,679.0 1467.0,676.5 1470.0,670.0 1473.0,658.7 1476.0,657.9 1479.0,653.3 1482.0,647.2 1485.0,639.6 1488.0,632.2 1491.0,626.7 1494.0,623.9 1497.0,616.3 1500.0,610.2 1503.0,598.3 1506.0,596.0 1509.0,585.7 1512.0,581.8 1515.0,572.6 1518.0,565.1 1521.0,559.5 1524.0,550.9 1527.0,543.8 1530.0,533.6 1533.0,534.6 1536.0,521.8 1539.0,514.3 1542.0,511.3 1544.0,507.0 1546.0,502.1 1548.0,498.3 1550.0,496.0 1552.0,492.3 1554.0,488.0 1556.0,481.6 1558.0,476.0 1560.0,470.5 1562.0,466.0 1564.0,460.4 1566.0,453.6 1568.0,450.2 1570.0,446.3 1572.0,443.4 1574.0,440.6 1576.0,438.3 1578.0,438.0 1580.0,437.7 1582.0,437.4 1584.0,437.5 1586.0,436.4 1588.0,439.0 1590.0,440.7 1592.0,444.1 1594.0,447.4 1596.0,449.3 1598.0,451.6 1600.0,453.8 1602.0,455.6 1604.0,458.1 1606.0,459.7 1608.0,461.2 1610.0,466.7 1612.0,470.1 1614.0,474.4 1616.0,477.3 1618.0,480.1 1620.0,482.7 1622.0,485.1 1624.0,487.3 1626.0,488.3 1628.0,491.7 1630.0,490.4 1632.0,489.9 1634.0,489.6 1636.0,488.0 1638.0,488.3 1640.0,487.5 1642.0,486.6 1644.0,483.5 1646.0,481.4 1648.0,478.4 1650.0,477.3 1652.0,475.2 1654.0,471.5 1656.0,470.9 1658.0,469.5 1660.0,467.0 1662.0,467.5 1664.0,465.4 1666.0,463.8 1668.0,462.1 1670.0,460.7 1672.0,456.9 1674.0,454.3 1676.0,450.8 1678.0,448.7 1680.0,442.5 1682.0,434.7 1684.0,425.8 1686.0,421.3 1688.0,415.8 1690.0,410.8 1692.0,407.8 1694.0,402.1 1696.0,395.8 1698.0,390.6 1700.0,384.4 1702.0,377.8 1704.0,371.0 1706.0,371.7 1708.0,380.0 1710.0,387.4 1712.0,389.6 1714.0,391.6 1716.0,392.4 1718.0,394.9 1720.0,398.3 1722.0,404.4 1724.0,410.2 1726.0,415.2 1728.0,425.8 1730.0,436.2 1732.0,439.0 1734.0,442.8 1736.0,447.2 1738.0,450.9 1740.0,454.6 1742.0,459.5 1744.0,466.6 1746.0,469.6 1748.0,471.6 1750.0,474.6 1752.0,476.7 1754.0,479.8 1756.0,480.6 1758.0,483.2 1760.0,485.8 1762.0,479.8 1764.0,473.3 1766.0,468.6 1768.0,466.9 1770.0,464.5 1772.0,461.1 1774.0,461.8 1776.0,462.7 1778.0,464.5 1780.0,464.6 1782.0,466.4 1784.0,461.4 1786.0,447.9 1788.0,444.9 1790.0,443.1 1792.0,439.0 1794.0,438.3 1796.0,435.9 1798.0,427.5 1800.0,413.6 1802.0,403.2 1804.0,393.7 1806.0,394.8 1808.0,403.8 1810.0,412.5 1812.0,420.9 1814.0,412.3 1816.0,395.4 1818.0,382.7 1820.0,367.4 1822.0,364.8 1824.0,374.5 1826.0,384.4 1828.0,405.7 1830.0,439.4 1832.0,432.5 1834.0,426.0 1836.0,418.9 1838.0,411.0 1840.0,410.6 1842.0,419.7 1844.0,425.7 1846.0,440.2 1848.0,459.5 1850.0,465.7 1852.0,469.6 1854.0,474.1 1856.0,474.6 1858.0,476.8 1860.0,477.3 1862.0,478.3 1864.0,475.9 1866.0,473.9 1868.0,473.5 1870.0,471.5 1872.0,474.3 1874.0,477.7 1876.0,479.7 1878.0,478.1 1880.0,474.4 1882.0,469.2 1884.0,465.2 1886.0,459.6 1888.0,453.9 1890.0,448.8 1892.0,449.9 1894.0,450.5 1896.0,452.6 1898.0,455.7 1900.0,460.2 1902.0,464.5 1904.0,464.7 1906.0,458.2 1908.0,451.8 1910.0,446.5 1912.0,443.1 1914.0,438.4 1916.0,438.8 1918.0,439.2 1920.0,439.2 1922.0,433.9 1924.0,423.3 1926.0,417.8 1928.0,414.1 1930.0,411.4 1932.0,414.5 1934.0,421.1 1936.0,426.9 1938.0,430.3 1940.0,428.7 1942.0,419.6 1944.0,413.5 1946.0,410.3 1948.0,404.9 1950.0,415.6 1952.0,423.9 1954.0,442.4 1956.0,456.9 1958.0,463.0 1960.0,465.1 1962.0,462.8 1964.0,458.1 1966.0,456.4 1968.0,454.3 1970.0,453.1 1972.0,452.1 1974.0,461.8 1976.0,470.9 1978.0,480.8 1980.0,488.1 1982.0,489.4 1984.0,491.0 1986.0,490.4 1988.0,488.4 1990.0,485.4 1992.0,483.2 1994.0,480.6 1996.0,476.7 1998.0,474.5 2000.0,473.4 2002.0,470.8 2004.0,470.8 2006.0,468.6 2008.0,469.5 2010.0,473.1 2012.0,477.6 2014.0,475.0 2016.0,469.5 2018.0,464.6 2020.0,460.7 2022.0,456.5 2024.0,453.8 2026.0,453.2 2028.0,453.5 2030.0,450.6 2032.0,446.6 2034.0,436.3 2036.0,428.1 2038.0,419.6 2040.0,415.8 2042.0,420.8 2044.0,428.5 2046.0,443.4 2048.0,458.9 2050.0,463.7 2052.0,470.3 2054.0,453.7 2056.0,437.8 2058.0,430.5 2060.0,422.8 2062.0,424.3 2064.0,428.9 2066.0,441.1 2068.0,454.1 2070.0,461.4 2072.0,471.0 2074.0,479.9" fill="none" stroke="#000080" stroke-width="11.5" stroke-linecap="round" stroke-linejoin="round"/>
<polyline points="426.0,1200.9 429.0,1207.3 432.0,1208.2 435.0,1206.7 438.0,1201.9 441.0,1201.3 444.0,1211.2 447.0,1204.7 450.0,1207.3 453.0,1208.0 456.0,1207.5 459.0,1202.6 462.0,1204.7 465.0,1200.8 468.0,1204.2 471.0,1200.3 474.0,1200.7 477.0,1200.7 480.0,1195.3 483.0,1202.4 486.0,1205.8 489.0,1200.4 492.0,1200.7 495.0,1205.3 498.0,1205.5 501.0,1205.8 504.0,1205.9 507.0,1205.4 510.0,1204.5 513.0,1206.1 516.0,1200.4 519.0,1194.5 522.0,1206.1 525.0,1201.4 528.0,1204.3 531.0,1201.9 534.0,1203.4 537.0,1206.9 540.0,1205.4 543.0,1203.5 546.0,1202.1 549.0,1206.6 552.0,1205.4 555.0,1203.5 558.0,1207.2 561.0,1205.7 564.0,1208.1 567.0,1205.4 570.0,1207.4 573.0,1204.4 576.0,1205.8 579.0,1213.9 582.0,1207.5 585.0,1203.8 588.0,1204.9 591.0,1200.2 594.0,1206.5 597.0,1205.9 600.0,1207.8 603.0,1202.9 606.0,1203.7 609.0,1207.5 612.0,1203.2 615.0,1206.8 618.0,1203.2 621.0,1202.5 624.0,1208.9 627.0,1201.4 630.0,1203.2 633.0,1200.8 636.0,1206.5 639.0,1207.7 642.0,1200.1 645.0,1199.7 648.0,1199.2 651.0,1207.1 654.0,1199.7 657.0,1204.8 660.0,1201.5 663.0,1200.5 666.0,1200.9 669.0,1204.6 672.0,1198.7 675.0,1205.9 678.0,1203.3 681.0,1200.3 684.0,1200.0 687.0,1203.8 690.0,1203.4 693.0,1200.7 696.0,1200.7 699.0,1201.7 702.0,1205.5 705.0,1202.1 708.0,1204.5 711.0,1202.6 714.0,1201.7 717.0,1200.9 720.0,1202.2 723.0,1200.4 726.0,1202.1 729.0,1197.2 732.0,1198.1 735.0,1202.6 738.0,1198.2 741.0,1201.9 744.0,1202.5 747.0,1199.2 750.0,1194.8 753.0,1200.2 756.0,1199.3 759.0,1195.9 762.0,1200.6 765.0,1197.2 768.0,1193.4 771.0,1193.4 774.0,1194.6 777.0,1197.8 780.0,1199.4 783.0,1193.2 786.0,1192.4 789.0,1197.5 792.0,1195.5 795.0,1195.7 798.0,1198.8 801.0,1199.6 804.0,1199.9 807.0,1198.1 810.0,1198.3 813.0,1192.4 816.0,1196.1 819.0,1199.1 822.0,1191.4 825.0,1195.0 828.0,1193.9 831.0,1193.8 834.0,1192.5 837.0,1192.3 840.0,1191.9 843.0,1190.6 846.0,1194.4 849.0,1193.3 852.0,1195.4 855.0,1194.7 858.0,1197.2 861.0,1191.8 864.0,1196.4 867.0,1192.0 870.0,1194.2 873.0,1195.4 876.0,1191.7 879.0,1192.1 882.0,1193.6 885.0,1189.0 888.0,1192.5 891.0,1188.7 894.0,1189.7 897.0,1193.1 900.0,1196.1 903.0,1196.2 906.0,1189.9 909.0,1188.8 912.0,1192.0 915.0,1191.3 918.0,1197.7 921.0,1201.0 924.0,1193.5 927.0,1192.2 930.0,1192.7 933.0,1192.3 936.0,1193.1 939.0,1195.2 942.0,1195.4 945.0,1188.6 948.0,1194.6 951.0,1188.1 954.0,1191.0 957.0,1193.9 960.0,1189.6 963.0,1192.3 966.0,1187.5 969.0,1188.8 972.0,1190.5 975.0,1187.6 978.0,1190.6 981.0,1188.9 984.0,1201.3 987.0,1189.6 990.0,1190.1 993.0,1193.7 996.0,1191.6 999.0,1187.1 1002.0,1188.5 1005.0,1191.9 1008.0,1188.3 1011.0,1188.6 1014.0,1191.8 1017.0,1190.6 1020.0,1188.6 1023.0,1191.0 1026.0,1184.6 1029.0,1186.4 1032.0,1188.3 1035.0,1188.5 1038.0,1193.4 1041.0,1186.1 1044.0,1188.6 1047.0,1187.2 1050.0,1191.4 1053.0,1192.3 1056.0,1185.7 1059.0,1192.5 1062.0,1191.0 1065.0,1186.8 1068.0,1192.7 1071.0,1187.2 1074.0,1191.4 1077.0,1185.1 1080.0,1188.3 1083.0,1188.6 1086.0,1191.9 1089.0,1191.3 1092.0,1188.7 1095.0,1184.3 1098.0,1187.5 1101.0,1186.9 1104.0,1192.1 1107.0,1196.3 1110.0,1186.9 1113.0,1186.4 1116.0,1189.8 1119.0,1183.9 1122.0,1190.0 1125.0,1188.6 1128.0,1186.5 1131.0,1188.8 1134.0,1186.0 1137.0,1183.7 1140.0,1185.9 1143.0,1182.7 1146.0,1182.9 1149.0,1178.8 1152.0,1189.0 1155.0,1183.6 1158.0,1186.0 1161.0,1190.0 1164.0,1188.6 1167.0,1189.1 1170.0,1187.1 1173.0,1186.2 1176.0,1186.1 1179.0,1186.1 1182.0,1184.8 1185.0,1183.8 1188.0,1182.7 1191.0,1181.1 1194.0,1183.6 1197.0,1186.9 1200.0,1185.0 1203.0,1181.5 1206.0,1187.0 1209.0,1180.2 1212.0,1187.8 1215.0,1185.3 1218.0,1184.3 1221.0,1183.0 1224.0,1186.4 1227.0,1179.3 1230.0,1179.3 1233.0,1183.5 1236.0,1181.5 1239.0,1182.3 1242.0,1183.3 1245.0,1172.0 1248.0,1186.9 1251.0,1184.2 1254.0,1179.1 1257.0,1184.5 1260.0,1182.6 1263.0,1183.9 1266.0,1184.2 1269.0,1186.3 1272.0,1178.7 1275.0,1186.1 1278.0,1181.5 1281.0,1179.1 1284.0,1180.4 1287.0,1180.3 1290.0,1184.7 1293.0,1181.4 1296.0,1177.4 1299.0,1182.9 1302.0,1180.9 1305.0,1183.5 1308.0,1176.8 1311.0,1183.8 1314.0,1183.9 1317.0,1176.2 1320.0,1180.2 1323.0,1177.0 1326.0,1180.4 1329.0,1176.5 1332.0,1183.3 1335.0,1177.2 1338.0,1181.2 1341.0,1181.0 1344.0,1171.1 1347.0,1177.1 1350.0,1183.0 1353.0,1175.4 1356.0,1184.1 1359.0,1177.7 1362.0,1179.8 1365.0,1177.9 1368.0,1168.6 1371.0,1179.4 1374.0,1180.6 1377.0,1180.4 1380.0,1178.5 1383.0,1176.8 1386.0,1174.2 1389.0,1178.6 1392.0,1179.3 1395.0,1177.6 1398.0,1182.0 1401.0,1175.4 1404.0,1180.6 1407.0,1179.7 1410.0,1181.2 1413.0,1181.3 1416.0,1175.3 1419.0,1181.1 1422.0,1176.5 1425.0,1178.8 1428.0,1181.0 1431.0,1177.9 1434.0,1177.7 1437.0,1173.2 1440.0,1177.6 1443.0,1174.5 1446.0,1175.6 1449.0,1175.4 1452.0,1180.5 1455.0,1177.5 1458.0,1178.2 1461.0,1173.3 1464.0,1174.4 1467.0,1179.3 1470.0,1172.7 1473.0,1179.8 1476.0,1175.2 1479.0,1174.8 1482.0,1175.9 1485.0,1175.2 1488.0,1175.4 1491.0,1175.0 1494.0,1177.4 1497.0,1173.7 1500.0,1172.7 1503.0,1175.0 1506.0,1172.1 1509.0,1175.2 1512.0,1175.6 1515.0,1178.1 1518.0,1172.3 1521.0,1174.7 1524.0,1178.0 1527.0,1174.2 1530.0,1178.5 1533.0,1177.5 1536.0,1171.7 1539.0,1174.7 1542.0,1178.0 1545.0,1175.9 1548.0,1177.2 1551.0,1179.9 1554.0,1177.2 1557.0,1176.1 1560.0,1178.7 1563.0,1175.2 1566.0,1171.6 1569.0,1173.8 1572.0,1176.6 1575.0,1179.7 1578.0,1176.8 1581.0,1174.0 1584.0,1180.1 1587.0,1175.0 1590.0,1173.6 1593.0,1176.4 1596.0,1174.6 1599.0,1172.7 1602.0,1177.8 1605.0,1177.7 1608.0,1180.2 1611.0,1173.0 1614.0,1179.8 1617.0,1178.9 1620.0,1174.3 1623.0,1176.3 1626.0,1177.7 1629.0,1175.2 1632.0,1173.5 1635.0,1179.9 1638.0,1174.3 1641.0,1177.2 1644.0,1176.9 1647.0,1181.1 1650.0,1178.3 1653.0,1177.3 1656.0,1182.2 1659.0,1177.1 1662.0,1180.5 1665.0,1176.4 1668.0,1181.1 1671.0,1181.2 1674.0,1182.1 1677.0,1179.4 1680.0,1177.3 1683.0,1181.0 1686.0,1183.6 1689.0,1178.6 1692.0,1176.4 1695.0,1178.0 1698.0,1184.6 1701.0,1176.8 1704.0,1177.4 1707.0,1178.0 1710.0,1185.0 1713.0,1180.9 1716.0,1183.8 1719.0,1184.1 1722.0,1182.0 1725.0,1184.8 1728.0,1182.7 1731.0,1183.7 1734.0,1181.9 1737.0,1186.5 1740.0,1184.9 1743.0,1182.3 1746.0,1182.7 1749.0,1188.1 1752.0,1184.0 1755.0,1182.0 1758.0,1186.8 1761.0,1186.3 1764.0,1182.5 1767.0,1185.3 1770.0,1187.8 1773.0,1185.3 1776.0,1191.7 1779.0,1190.4 1782.0,1188.1 1785.0,1192.0 1788.0,1184.7 1791.0,1186.7 1794.0,1192.9 1797.0,1189.8 1800.0,1187.2 1803.0,1190.9 1806.0,1192.7 1809.0,1192.0 1812.0,1187.6 1815.0,1188.0 1818.0,1191.6 1821.0,1188.6 1824.0,1189.7 1827.0,1194.9 1830.0,1193.5 1833.0,1190.8 1836.0,1197.9 1839.0,1193.8 1842.0,1198.4 1845.0,1196.3 1848.0,1196.6 1851.0,1195.0 1854.0,1197.3 1857.0,1193.8 1860.0,1194.0 1863.0,1199.4 1866.0,1193.8 1869.0,1195.5 1872.0,1198.7 1875.0,1195.2 1878.0,1195.7 1881.0,1200.5 1884.0,1194.5 1887.0,1195.0 1890.0,1200.7 1893.0,1195.6 1896.0,1196.3 1899.0,1201.2 1902.0,1196.6 1905.0,1202.7 1908.0,1201.6 1911.0,1202.2 1914.0,1197.3 1917.0,1197.6 1920.0,1202.7 1923.0,1203.8 1926.0,1199.2 1929.0,1199.5 1932.0,1200.3 1935.0,1199.9 1938.0,1202.7 1941.0,1203.9 1944.0,1198.3 1947.0,1200.7 1950.0,1202.2 1953.0,1201.7 1956.0,1203.3 1959.0,1202.7 1962.0,1209.4 1965.0,1204.7 1968.0,1202.9 1971.0,1207.6 1974.0,1210.4 1977.0,1209.0 1980.0,1207.9 1983.0,1205.7 1986.0,1206.0 1989.0,1205.3 1992.0,1209.8 1995.0,1209.9 1998.0,1207.4 2001.0,1210.8 2004.0,1209.1 2007.0,1209.6 2010.0,1206.2 2013.0,1206.1 2016.0,1206.2 2019.0,1212.3 2022.0,1211.5 2025.0,1212.5 2028.0,1212.0 2031.0,1212.1 2034.0,1202.1 2037.0,1212.1 2040.0,1207.1 2043.0,1211.5 2046.0,1206.4 2049.0,1214.6 2052.0,1214.0 2055.0,1208.0 2058.0,1213.4 2061.0,1214.1 2064.0,1207.6 2067.0,1212.3 2070.0,1211.2" fill="none" stroke="#990088" stroke-width="11" stroke-linecap="round" stroke-linejoin="round"/>
</g>
<rect x="480.4" y="19.7" width="652" height="916" fill="none" stroke="#000" stroke-width="5.2"/>
<line x1="494.4" y1="81.8" x2="700.2" y2="81.8" stroke="#000000" stroke-width="10" stroke-linecap="round"/>
<text x="720.41" y="110.70" font-size="91" >h2=2mm</text>
<line x1="494.4" y1="194.9" x2="700.2" y2="194.9" stroke="#008000" stroke-width="10" stroke-linecap="round"/>
<text x="720.41" y="223.80" font-size="91" >h2=1.5mm</text>
<line x1="494.4" y1="308.0" x2="700.2" y2="308.0" stroke="#000080" stroke-width="10" stroke-linecap="round"/>
<text x="720.41" y="336.90" font-size="91" >h2=1mm</text>
<line x1="494.4" y1="421.1" x2="700.2" y2="421.1" stroke="#990088" stroke-width="10" stroke-linecap="round"/>
<text x="720.41" y="450.00" font-size="91" >h2=0.5mm</text>
<line x1="494.4" y1="534.2" x2="700.2" y2="534.2" stroke="#ff00ff" stroke-width="10" stroke-linecap="round" stroke-dasharray="40.4 43.6"/>
<text x="720.41" y="563.10" font-size="91" >h2=2mm</text>
<line x1="494.4" y1="647.3" x2="700.2" y2="647.3" stroke="#0000ff" stroke-width="10" stroke-linecap="round" stroke-dasharray="40.4 43.6"/>
<text x="720.41" y="676.20" font-size="91" >h2=1.5mm</text>
<line x1="494.4" y1="760.4" x2="700.2" y2="760.4" stroke="#ff0000" stroke-width="10" stroke-linecap="round" stroke-dasharray="40.4 43.6"/>
<text x="720.41" y="789.30" font-size="91" >h2=1mm</text>
<line x1="494.4" y1="873.5" x2="700.2" y2="873.5" stroke="#9900ff" stroke-width="10" stroke-linecap="round" stroke-dasharray="40.4 43.6"/>
<text x="720.41" y="902.40" font-size="91" >h2=0.5mm</text>
<line x1="1206.8" y1="113.6" x2="1355" y2="113.6" stroke="#000" stroke-width="10" stroke-linecap="round"/>
<line x1="1212.7" y1="227.7" x2="1252.8" y2="227.7" stroke="#000" stroke-width="10" stroke-linecap="round"/>
<line x1="1298.8" y1="225.6" x2="1338.9" y2="225.6" stroke="#000" stroke-width="10" stroke-linecap="round"/>
<text x="1370.55" y="135.40" font-size="91" >experimental value</text>
<text x="1377.97" y="253.80" font-size="91" >simulation value</text>
<text x="98.08" y="332.60" font-size="94">2.5x10</text>
<text x="353.73" y="286.60" font-size="57">5</text>
<text x="98.08" y="516.70" font-size="94">2.0x10</text>
<text x="353.73" y="470.70" font-size="57">5</text>
<text x="98.08" y="698.50" font-size="94">1.5x10</text>
<text x="353.73" y="652.50" font-size="57">5</text>
<text x="98.08" y="880.40" font-size="94">1.0x10</text>
<text x="353.73" y="834.40" font-size="57">5</text>
<text x="98.08" y="1065.00" font-size="94">5.0x10</text>
<text x="352.39" y="1019.00" font-size="57">4</text>
<text x="98.08" y="1428.00" font-size="94">5.0x10</text>
<text x="352.39" y="1382.00" font-size="57">4</text>
<text x="266.38" y="1240.50" font-size="94">0.0</text>
<text x="73.01" y="1428.00" font-size="94" >-</text>
<text x="532.67" y="1502.90" font-size="94" >200</text>
<text x="1452.50" y="1502.90" font-size="94" >300</text>
<text x="869.93" y="1560.20" font-size="91" >crank angle (°)</text>
<text transform="translate(85.3,1201.47) rotate(-90)" font-size="91">cylinder pressure (Pa)</text>
</svg>
</body></html>
